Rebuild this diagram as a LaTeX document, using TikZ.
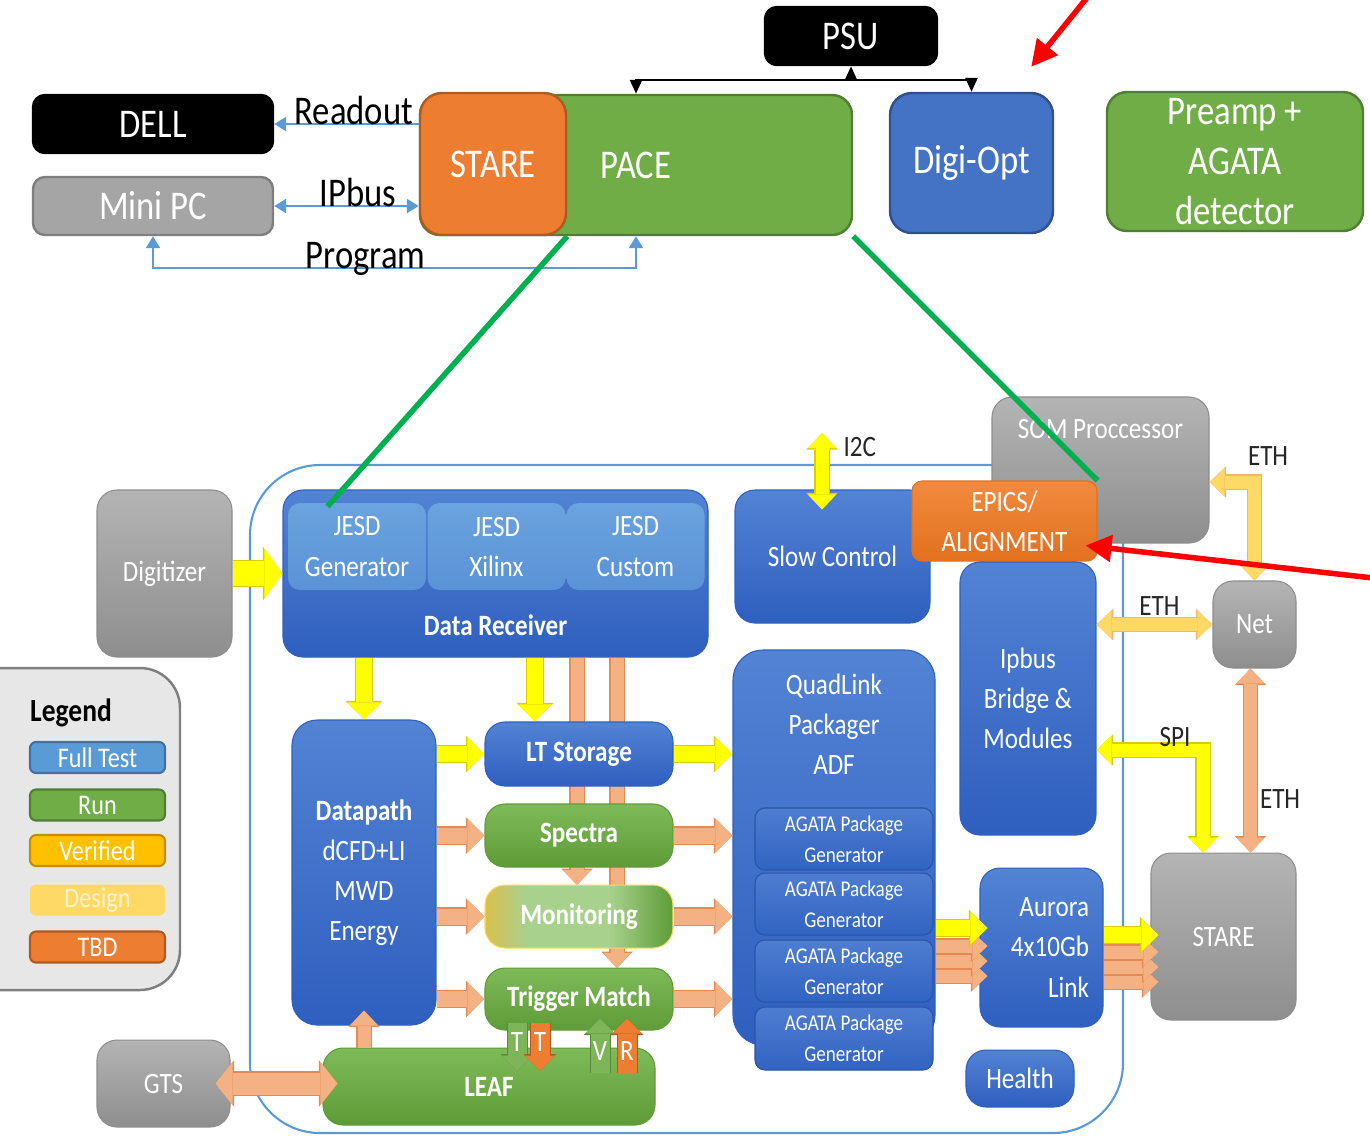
\documentclass[tikz,border=0pt]{standalone}
\usepackage{fontspec}
\setmainfont[FakeStretch=0.85]{Carlito}
\usetikzlibrary{positioning,calc,arrows.meta}

\definecolor{pgreen}{HTML}{70AD47}
\definecolor{pgreenedge}{HTML}{507E32}
\definecolor{porange}{HTML}{ED7D31}
\definecolor{porangeedge}{HTML}{AE5A21}
\definecolor{pblue}{HTML}{4472C4}
\definecolor{pblueedge}{HTML}{2F528F}
\definecolor{pgray}{HTML}{A5A5A5}
\definecolor{pgrayedge}{HTML}{7F7F7F}
\definecolor{lineblue}{HTML}{5B9BD5}
\definecolor{lineblueedge}{HTML}{41719C}
\definecolor{bluetop}{HTML}{5383D4}
\definecolor{bluebot}{HTML}{2F5FBF}
\definecolor{jesdtop}{HTML}{6AA3DE}
\definecolor{jesdbot}{HTML}{5A92D6}
\definecolor{agatatop}{HTML}{4E7DD0}
\definecolor{agatabot}{HTML}{3163C2}
\definecolor{graytop}{HTML}{B4B4B4}
\definecolor{graybot}{HTML}{8E8E8E}
\definecolor{greentop}{HTML}{7FBA58}
\definecolor{greenbot}{HTML}{5E9C38}
\definecolor{orangetop}{HTML}{F28A3E}
\definecolor{orangebot}{HTML}{E2701F}
\definecolor{monleft}{HTML}{D9C04A}
\definecolor{monmid}{HTML}{A9D18E}
\definecolor{arryel}{HTML}{FFFF00}
\definecolor{arryeledge}{HTML}{D9CC00}
\definecolor{arrsal}{HTML}{F4B183}
\definecolor{arrsaledge}{HTML}{E68A55}
\definecolor{arrlyel}{HTML}{FFD966}
\definecolor{arrlyeledge}{HTML}{F2B27A}
\definecolor{legendgray}{HTML}{E7E7E7}
\definecolor{verified}{HTML}{FFC000}
\definecolor{verifiededge}{HTML}{BF9000}
\definecolor{design}{HTML}{FFD966}
\definecolor{designtext}{HTML}{FFF2CC}
\definecolor{greenline}{HTML}{00B050}
\colorlet{arredge}{black}

\pgfdeclarehorizontalshading{monshade}{100bp}{color(0bp)=(monleft); color(25bp)=(monleft); color(36bp)=(monmid); color(58bp)=(monmid); color(75bp)=(greenbot); color(100bp)=(greenbot)}

\tikzset{
  sz/.style 2 args={minimum width=#1,minimum height=#2},
  topbox/.style={draw, line width=0.7pt, rounded corners=1.2mm, inner sep=0pt, align=center, text=white, font=\fontsize{11.6}{14.2}\selectfont},
  inbox/.style={rounded corners=2mm, line width=0.3pt, inner sep=0pt, align=center, text=white, font=\fontsize{8.4}{11.4}\selectfont},
  bluebox/.style={inbox, top color=bluetop, bottom color=bluebot, draw=bluebot},
  graybox/.style={inbox, top color=graytop, bottom color=graybot, draw=graybot},
  greenbox/.style={inbox, top color=greentop, bottom color=greenbot, draw=greenbot},
  orangebox/.style={inbox, rounded corners=1mm, top color=orangetop, bottom color=orangebot, draw=orangebot},
  jesdbox/.style={inbox, rounded corners=1.2mm, top color=jesdtop, bottom color=jesdbot},
  agatabox/.style={inbox, rounded corners=1mm, top color=agatatop, bottom color=agatabot, draw=agatabot!85!black, font=\fontsize{6.4}{8.8}\selectfont},
  monbox/.style={inbox, shading=monshade, draw=verified!60},
  boldtxt/.style={font=\fontsize{8.4}{11.4}\selectfont\bfseries},
  lbl/.style={inner sep=0pt, text=black, font=\fontsize{11.6}{14}\selectfont},
  tagtxt/.style={inner sep=0pt, text=black!85, font=\fontsize{8.4}{10}\selectfont},
  lettxt/.style={inner sep=0pt, text=white, font=\fontsize{8.4}{9}\selectfont},
  legitem/.style={line width=0.6pt, rounded corners=0.6mm, sz={13.5mm}{3.1mm}, inner sep=0pt, text=white, font=\fontsize{8.1}{9}\selectfont},
  % arrow tips
  tipthin/.tip={Triangle[width=1.4mm,length=1.2mm]},
  tippsu/.tip={Triangle[width=1.2mm,length=1.4mm]},
  tipred/.tip={Triangle[width=2.6mm,length=2.6mm]},
  tipbig/.tip={Triangle[width=5mm,length=1.8mm,line width=0pt]},
  tipbigo/.tip={Triangle[width=5.35mm,length=1.95mm,line width=0pt]},
  tipgts/.tip={Triangle[width=4.3mm,length=1.7mm,line width=0pt]},
  tipgtso/.tip={Triangle[width=4.65mm,length=1.85mm,line width=0pt]},
  tipmid/.tip={Triangle[width=3.3mm,length=1.7mm,line width=0pt]},
  tipmido/.tip={Triangle[width=3.65mm,length=1.85mm,line width=0pt]},
  tipsml/.tip={Triangle[width=2.8mm,length=1.5mm,line width=0pt]},
  tipsmlo/.tip={Triangle[width=3.15mm,length=1.65mm,line width=0pt]},
  tiptiny/.tip={Triangle[width=3mm,length=1.5mm,line width=0pt]},
  tiptinyo/.tip={Triangle[width=3.3mm,length=1.65mm,line width=0pt]},
  % arrow colours
  ylw/.style={draw=arryel, /utils/exec={\colorlet{arredge}{arryeledge}}},
  slm/.style={draw=arrsal, /utils/exec={\colorlet{arredge}{arrsaledge}}},
  lyl/.style={draw=arrlyel, /utils/exec={\colorlet{arredge}{arrlyeledge}}},
  grna/.style={draw=pgreen!90!white, /utils/exec={\colorlet{arredge}{pgreen!80!black}}},
  orga/.style={draw=porange, /utils/exec={\colorlet{arredge}{porangeedge}}},
  % fat arrows
  fatbig/.style={line width=2.5mm, arrows={-tipbig}, preaction={draw=arredge, line width=2.75mm, arrows={-tipbigo}}},
  fatgts/.style={line width=2.2mm, arrows={tipgts-tipgts}, preaction={draw=arredge, line width=2.45mm, arrows={tipgtso-tipgtso}}},
  fatmid/.style={line width=1.6mm, arrows={-tipmid}, preaction={draw=arredge, line width=1.85mm, arrows={-tipmido}}},
  fatsml/.style={line width=1.3mm, arrows={-tipsml}, preaction={draw=arredge, line width=1.55mm, arrows={-tipsmlo}}},
  fatsmltwo/.style={line width=1.3mm, arrows={tipsml-tipsml}, preaction={draw=arredge, line width=1.55mm, arrows={tipsmlo-tipsmlo}}},
  fattiny/.style={line width=1.9mm, arrows={-tiptiny}, preaction={draw=arredge, line width=2.1mm, arrows={-tiptinyo}}},
  thinarr/.style={draw=lineblue, line width=0.7pt},
  psuline/.style={draw=black, line width=0.7pt},
  redarr/.style={draw=red, line width=0.55mm, -tipred},
  greenln/.style={draw=greenline, line width=0.55mm},
}

\begin{document}
\begin{tikzpicture}[x=0.1mm,y=-0.1mm]
\useasboundingbox (0,0) rectangle (1370,1138);

% top row
\node[topbox, fill=black, sz={17.2mm}{5.8mm}] (psu) at (851,36) {PSU};
\node[topbox, fill=black, sz={24mm}{5.8mm}] (dell) at (153,124) {DELL};
\node[topbox, fill=pgray, draw=pgrayedge, sz={24mm}{5.8mm}] (minipc) at (153,206) {Mini PC};
\node[topbox, fill=pgreen, draw=pgreenedge, sz={43.2mm}{14mm}, rounded corners=2mm] (pace) at (636,165) {PACE};
\node[topbox, fill=porange, draw=porangeedge, sz={14.6mm}{14.2mm}, rounded corners=2.2mm] (stare) at (493,164) {STARE};
\node[topbox, fill=pblue, draw=pblueedge, sz={16.3mm}{14mm}, rounded corners=2.2mm] (digiopt) at (971.5,163) {Digi-Opt};
\node[topbox, fill=pgreen, draw=pgreenedge, sz={25.6mm}{13.9mm}, rounded corners=2mm] (preamp) at (1235,161.5) {Preamp +\\AGATA\\detector};

\draw[thinarr, -tipthin] (dell.east -| stare.west) -- node[lbl, anchor=base, pos=0.45] {Readout} (dell.east);
\draw[thinarr, tipthin-tipthin] (minipc.east) -- node[lbl, anchor=base, pos=0.58] {IPbus} (minipc.east -| stare.west);
\draw[thinarr, tipthin-tipthin] (pace.south) -- ++(0,32) -| node[lbl, anchor=base, pos=0.28] {Program} (minipc.south);

\coordinate (psuj) at (851,80);
\draw[psuline, -tippsu] (psuj) -- (psu.south);
\draw[psuline, tippsu-tippsu] (pace.north) |- (psuj) -| (digiopt.north);

% firmware frame
\node[draw=lineblue, line width=0.6pt, rounded corners=7mm, sz={87.3mm}{66.8mm}, inner sep=0pt] (fpga) at (686.5,799) {};

% legend
\node[draw=pgrayedge, fill=legendgray, line width=0.7pt, rounded corners=4mm, sz={22mm}{32.2mm}] (legend) at (70,829) {};
\node[font=\fontsize{9.2}{11}\selectfont\bfseries, inner sep=0pt] (legtitle) at (71,713) {Legend};
\node[legitem, fill=lineblue, draw=lineblueedge] (lfull) at (97.5,757.5) {Full Test};
\node[legitem, fill=pgreen, draw=pgreenedge] (lrun) at (97.5,805) {Run};
\node[legitem, fill=verified, draw=verifiededge] (lver) at (97.5,850.5) {Verified};
\node[legitem, fill=design, text=designtext] (ldes) at (97.5,900) {Design};
\node[legitem, fill=porange, draw=porangeedge] (ltbd) at (97.5,947) {TBD};

% blocks
\node[graybox, sz={13.5mm}{16.7mm}] (digitizer) at (164.5,573.5) {Digitizer};
\node[bluebox, sz={42.5mm}{16.7mm}, label={[anchor=base, yshift=2.2mm, inner sep=0pt, text=white, font=\fontsize{8.4}{10}\selectfont\bfseries]south:Data Receiver}] (datarx) at (495.5,573.5) {};
\node[jesdbox, sz={13.8mm}{8.7mm}] (jgen) at (357,546.5) {JESD\\Generator};
\node[jesdbox, sz={13.8mm}{8.7mm}] (jxil) at (496.5,546.5) {JESD\\Xilinx};
\node[jesdbox, sz={13.8mm}{8.7mm}] (jcus) at (635.5,546.5) {JESD\\Custom};
\node[bluebox, sz={19.5mm}{13.3mm}] (slowctl) at (832.5,556.5) {Slow Control};
\node[graybox, sz={21.7mm}{14.6mm}, label={[anchor=base, yshift=-4.2mm, inner sep=0pt, text=white, font=\fontsize{8.4}{10}\selectfont]north:SOM Proccessor}] (som) at (1100.5,470) {};
\node[orangebox, sz={18.5mm}{8mm}] (epics) at (1004.5,521) {EPICS/\\ALIGNMENT};
\node[bluebox, sz={13.6mm}{27.3mm}] (ipbus) at (1028,698.5) {Ipbus\\Bridge \&\\Modules};
\node[graybox, sz={8.3mm}{8.7mm}] (net) at (1254.5,624.5) {Net};
\node[graybox, sz={14.5mm}{16.7mm}] (stare2) at (1223.5,936.5) {STARE};
\node[bluebox, sz={12.3mm}{15.9mm}, text width=9.5mm, align=right] (aurora) at (1041.5,947.5) {Aurora\\4x10Gb\\Link};
\node[bluebox, sz={10.8mm}{5.7mm}] (health) at (1020,1078.5) {Health};
\node[bluebox, rounded corners=3mm, sz={20.2mm}{39.5mm}, label={[anchor=north, yshift=-2.4mm, align=center, inner sep=0pt, text=white, font=\fontsize{8.4}{11.4}\selectfont]north:{QuadLink\\Packager\\ADF}}] (quadlink) at (834,847.5) {};
\node[agatabox, sz={17.8mm}{6.2mm}] (agata1) at (844,839) {AGATA Package\\Generator};
\node[agatabox, sz={17.8mm}{6.2mm}] (agata2) at (844,904) {AGATA Package\\Generator};
\node[agatabox, sz={17.8mm}{6.2mm}] (agata3) at (844,971) {AGATA Package\\Generator};
\node[agatabox, sz={17.8mm}{6.3mm}] (agata4) at (844,1038.5) {AGATA Package\\Generator};
\node[bluebox, rounded corners=2.5mm, sz={14.4mm}{30.5mm}] (datapath) at (364,872.5) {{\bfseries Datapath}\\dCFD+LI\\MWD\\Energy};

% bars behind the middle column
\coordinate (bar1) at (577,885);
\coordinate (bar2) at (617,968);
\draw[slm, fatsml] (bar1 |- datarx.south) -- (bar1);
\draw[slm, fatsml] (bar2 |- datarx.south) -- (bar2);

\node[bluebox, boldtxt, sz={18.8mm}{6.4mm}] (ltstore) at (579,754) {LT Storage};
\node[greenbox, boldtxt, sz={18.8mm}{6.3mm}] (spectra) at (579,835.5) {Spectra};
\node[monbox, boldtxt, sz={18.8mm}{6.3mm}] (monitor) at (579,916.5) {Monitoring};
\node[greenbox, boldtxt, sz={18.8mm}{6.2mm}] (trigger) at (579,999) {Trigger Match};
\node[greenbox, boldtxt, sz={33.2mm}{7.7mm}] (leaf) at (489,1086.5) {LEAF};
\node[graybox, sz={13.3mm}{8.7mm}] (gts) at (163.5,1083.5) {GTS};

% data flow
\draw[ylw, fatbig] (digitizer.east) -- (datarx.west);
\coordinate (lt1) at ([shift={(-44,0)}]ltstore.north);
\draw[ylw, fatmid] (lt1 |- datarx.south) -- (lt1);
\draw[ylw, fatmid] (datapath.north |- datarx.south) -- (datapath.north);
\draw[ylw, fatmid] (datapath.east |- ltstore.west) -- (ltstore.west);
\foreach \b in {spectra,monitor,trigger}
  \draw[slm, fatmid] (datapath.east |- \b.west) -- (\b.west);
\draw[ylw, fatmid] (ltstore.east) -- (ltstore.east -| quadlink.west);
\foreach \b in {spectra,monitor,trigger}
  \draw[slm, fatmid] (\b.east) -- (\b.east -| quadlink.west);

\coordinate (qa) at (quadlink.east |- aurora.west);
\foreach \dy in {28.5,13.5,-1.5}
  \draw[slm, fatsml, shorten >=-0.8mm] ($(qa)+(0,\dy)$) -- ($(aurora.west)+(0,\dy)$);
\draw[ylw, fatmid, shorten >=-0.8mm] ($(qa)+(0,-19.5)$) -- ($(aurora.west)+(0,-19.5)$);
\coordinate (as) at (aurora.east |- stare2.west);
\foreach \dy in {45.5,30.5,15.5}
  \draw[slm, fatsml, shorten >=-0.8mm] ($(as)+(0,\dy)$) -- ($(stare2.west)+(0,\dy)$);
\draw[ylw, fatmid, shorten >=-0.8mm] ($(as)+(0,-1.5)$) -- ($(stare2.west)+(0,-1.5)$);

\draw[slm, fatgts, shorten <=-1.5mm, shorten >=-1.5mm] (gts.east) -- (gts.east -| leaf.west);
\draw[slm, fatsml, shorten >=-1.5mm] (datapath.south |- leaf.north) -- (datapath.south);

\draw[grna, fattiny] ([shift={(-62,-8)}]trigger.south) -- node[lettxt, pos=0.4] {T} ([shift={(-62,40)}]trigger.south);
\draw[orga, fattiny] ([shift={(-39,-8)}]trigger.south) -- node[lettxt, pos=0.4] {T} ([shift={(-39,40)}]trigger.south);
\draw[grna, fattiny] ([shift={(21,42)}]trigger.south) -- node[lettxt, pos=0.4] {V} ([shift={(21,-12)}]trigger.south);
\draw[orga, fattiny] ([shift={(48,42)}]trigger.south) -- node[lettxt, pos=0.4] {R} ([shift={(48,-12)}]trigger.south);

% control links
\coordinate (i2c) at (822,433);
\draw[ylw, fatsmltwo, shorten >=-2mm] (i2c) -- node[tagtxt, pos=0.25, right=1.5mm] {I2C} (i2c |- slowctl.north);
\coordinate (ethc) at (1254.5,482);
\draw[lyl, fatsmltwo] (som.east |- ethc) -- (ethc) node[tagtxt, anchor=south west, shift={(-13,-10)}] {ETH} -- (net.north);
\draw[lyl, fatsmltwo] (ipbus.east |- net.west) -- node[tagtxt, above=0.3mm, xshift=0.5mm] {ETH} (net.west);
\coordinate (spic) at (1203,750);
\draw[ylw, fatsmltwo] (ipbus.east |- spic) -- (spic) node[tagtxt, anchor=south east, shift={(-6,3)}] {SPI} -- (spic |- stare2.north);
\coordinate (ethv) at ([shift={(-4,0)}]net.south);
\draw[slm, fatsmltwo] (ethv) -- node[tagtxt, right=0.3mm, pos=0.71] {ETH} (ethv |- stare2.north);

% zoom lines and markers
\draw[greenln] (stare.south east) -- ([shift={(40,4)}]jgen.north west);
\draw[greenln] (pace.south east) -- (epics.north east);
\coordinate (redtop) at (1090,-6);
\coordinate (redside) at (1382,579);
\draw[redarr] (redtop) -- ([shift={(-23,-25)}]digiopt.north east);
\draw[redarr] (redside) -- ([shift={(-12,-16)}]epics.south east);

\end{tikzpicture}
\end{document}
